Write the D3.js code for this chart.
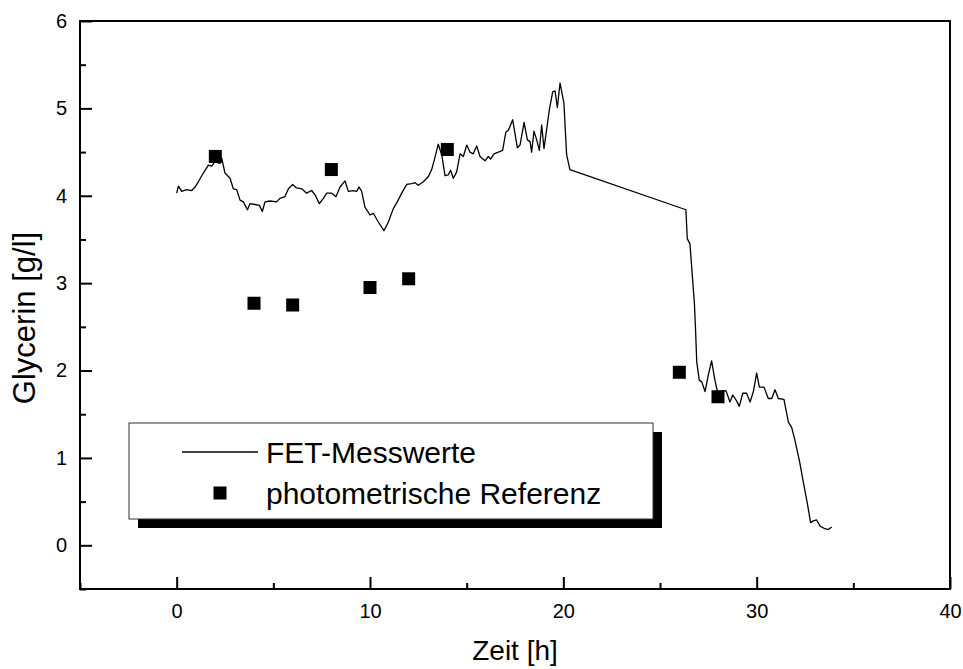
<!DOCTYPE html>
<html>
<head>
<meta charset="utf-8">
<script src="https://cdn.jsdelivr.net/npm/d3@7"></script>
<style>
  body { margin: 0; background: #fff; }
  svg text { font-family: "Liberation Sans", Arial, sans-serif; fill: #000; }
</style>
</head>
<body>
<svg id="chart"></svg>
<script>
// FET sensor readings (time in h, glycerin in g/l)
var fetTime = [0, 0.09, 0.26, 0.52, 0.78, 0.95, 1.12, 1.38, 1.64, 1.81, 1.98, 2.24, 2.33, 2.5, 2.76, 2.93,
    3.1, 3.28, 3.45, 3.66, 3.79, 4.05, 4.28, 4.43, 4.57, 4.83, 5.17, 5.34, 5.6, 5.78, 6.0, 6.2, 6.47,
    6.72, 6.98, 7.16, 7.38, 7.59, 7.76, 8.02, 8.24, 8.45, 8.71, 8.88, 9.14, 9.31, 9.43, 9.57, 9.74,
    10.0, 10.17, 10.43, 10.72, 10.95, 11.2, 11.41, 11.64, 11.9, 12.16, 12.33, 12.5, 12.76, 13.02,
    13.19, 13.36, 13.53, 13.71, 13.88, 14.05, 14.17, 14.31, 14.48, 14.66, 14.83, 15.0, 15.17, 15.34,
    15.52, 15.69, 15.95, 16.12, 16.24, 16.41, 16.64, 16.86, 17.03, 17.16, 17.38, 17.62, 17.76, 17.97,
    18.14, 18.28, 18.36, 18.48, 18.62, 18.76, 18.88, 19.0, 19.28, 19.45, 19.57, 19.69, 19.83, 20.03,
    20.17, 20.34, 26.34, 26.41, 26.55, 26.69, 26.78, 26.84, 26.9, 27.03, 27.16, 27.33, 27.5, 27.67,
    27.84, 27.97, 28.19, 28.41, 28.62, 28.76, 28.97, 29.1, 29.28, 29.48, 29.66, 29.83, 30.0, 30.14,
    30.38, 30.6, 30.78, 30.95, 31.12, 31.41, 31.64, 31.81, 31.98, 32.21, 32.41, 32.62, 32.79, 32.93,
    33.1, 33.28, 33.53, 33.71, 33.88]
var fetValue = [4.03, 4.11, 4.05, 4.07, 4.06, 4.10, 4.16, 4.26, 4.35, 4.34, 4.39, 4.37, 4.43, 4.26, 4.20, 4.08,
    4.07, 3.95, 3.93, 3.84, 3.91, 3.90, 3.89, 3.82, 3.93, 3.94, 3.93, 3.97, 3.99, 4.08, 4.13, 4.09, 4.08,
    4.03, 4.06, 4.01, 3.91, 3.97, 4.03, 4.03, 3.99, 4.10, 4.17, 4.05, 4.06, 4.05, 4.10, 4.05, 3.87,
    3.78, 3.80, 3.70, 3.60, 3.70, 3.85, 3.93, 4.03, 4.13, 4.14, 4.15, 4.12, 4.16, 4.22,
    4.30, 4.44, 4.59, 4.47, 4.23, 4.24, 4.29, 4.20, 4.27, 4.48, 4.45, 4.58, 4.50, 4.48,
    4.57, 4.45, 4.40, 4.45, 4.42, 4.48, 4.50, 4.52, 4.73, 4.75, 4.87, 4.55, 4.58, 4.84,
    4.64, 4.62, 4.50, 4.74, 4.64, 4.52, 4.81, 4.54, 4.99, 5.19, 5.20, 5.01, 5.29, 5.06,
    4.47, 4.30, 3.84, 3.51, 3.45, 3.03, 2.77, 2.46, 2.10, 1.89, 1.87, 1.76, 1.95, 2.11,
    1.89, 1.76, 1.76, 1.77, 1.64, 1.72, 1.65, 1.59, 1.74, 1.74, 1.64, 1.76, 1.97, 1.81,
    1.81, 1.68, 1.68, 1.78, 1.68, 1.67, 1.41, 1.35, 1.20, 0.97, 0.73, 0.48, 0.26, 0.28,
    0.29, 0.22, 0.19, 0.18, 0.21]

// photometric reference samples
var refTime = [2, 4, 6, 8, 10, 12, 14, 26, 28]
var refValue = [4.45, 2.77, 2.75, 4.30, 2.95, 3.05, 4.53, 1.98, 1.70]

// ticks
var xMajor = [0, 10, 20, 30, 40]
var xMinor = [-5, 5, 15, 25, 35]
var yMajor = [0, 1, 2, 3, 4, 5, 6]
var yMinor = [-0.5, 0.5, 1.5, 2.5, 3.5, 4.5, 5.5]

var legendLabels = ["FET-Messwerte", "photometrische Referenz"]

const width = 963, height = 669;
const margin = { top: 21, right: 13, bottom: 80, left: 80 };

const svg = d3.select("#chart")
    .attr("width", width)
    .attr("height", height);

const xScale = d3.scaleLinear()
    .domain([-5, 40])
    .range([margin.left, width - margin.right]);

const yScale = d3.scaleLinear()
    .domain([-0.5, 6])
    .range([height - margin.bottom, margin.top]);

const plotW = xScale(40) - xScale(-5);
const plotH = yScale(-0.5) - yScale(6);

// x axis, ticks pointing inward
svg.append("g")
    .attr("transform", `translate(0,${yScale(-0.5)})`)
    .call(d3.axisBottom(xScale).tickValues(xMajor).tickSize(-12).tickPadding(15).tickFormat(d3.format("d")))
    .call(g => g.select(".domain").remove())
    .call(g => g.selectAll("line").attr("stroke-width", 2))
    .call(g => g.selectAll("text").attr("font-size", 20).attr("font-family", null));

svg.append("g")
    .attr("transform", `translate(0,${yScale(-0.5)})`)
    .call(d3.axisBottom(xScale).tickValues(xMinor).tickSize(-6).tickFormat(""))
    .call(g => g.select(".domain").remove())
    .call(g => g.selectAll("line").attr("stroke-width", 2));

// y axis
svg.append("g")
    .attr("transform", `translate(${xScale(-5)},0)`)
    .call(d3.axisLeft(yScale).tickValues(yMajor).tickSize(-12).tickPadding(13).tickFormat(d3.format("d")))
    .call(g => g.select(".domain").remove())
    .call(g => g.selectAll("line").attr("stroke-width", 2))
    .call(g => g.selectAll("text").attr("font-size", 20).attr("font-family", null));

svg.append("g")
    .attr("transform", `translate(${xScale(-5)},0)`)
    .call(d3.axisLeft(yScale).tickValues(yMinor).tickSize(-6).tickFormat(""))
    .call(g => g.select(".domain").remove())
    .call(g => g.selectAll("line").attr("stroke-width", 2));

// frame
svg.append("rect")
    .attr("x", xScale(-5))
    .attr("y", yScale(6))
    .attr("width", plotW)
    .attr("height", plotH)
    .attr("fill", "none")
    .attr("stroke", "#000")
    .attr("stroke-width", 2);

// FET line
var fetData = fetTime.map((t, i) => [t, fetValue[i]]);
svg.append("path")
    .datum(fetData)
    .attr("fill", "none")
    .attr("stroke", "#000")
    .attr("stroke-width", 1.3)
    .attr("stroke-linejoin", "round")
    .attr("d", d3.line().x(d => xScale(d[0])).y(d => yScale(d[1])));

// reference squares
const sq = 13;
svg.selectAll("rect.ref")
    .data(refTime.map((t, i) => [t, refValue[i]]))
    .enter()
    .append("rect")
    .attr("class", "ref")
    .attr("x", d => xScale(d[0]) - sq / 2)
    .attr("y", d => yScale(d[1]) - sq / 2)
    .attr("width", sq)
    .attr("height", sq)
    .attr("fill", "#000");

// axis titles
svg.append("text")
    .attr("x", (xScale(-5) + xScale(40)) / 2)
    .attr("y", 660)
    .attr("text-anchor", "middle")
    .attr("font-size", 28)
    .text("Zeit [h]");

svg.append("text")
    .attr("transform", "translate(35,318) rotate(-90)")
    .attr("text-anchor", "middle")
    .attr("font-size", 31)
    .text("Glycerin [g/l]");

// legend with drop shadow
const lg = { x: 129, y: 423, w: 524, h: 96, off: 9 };
svg.append("rect")
    .attr("x", lg.x + lg.off)
    .attr("y", lg.y + lg.off)
    .attr("width", lg.w)
    .attr("height", lg.h)
    .attr("fill", "#000");
svg.append("rect")
    .attr("x", lg.x)
    .attr("y", lg.y)
    .attr("width", lg.w)
    .attr("height", lg.h)
    .attr("fill", "#fff")
    .attr("stroke", "#333")
    .attr("stroke-width", 1);

svg.append("line")
    .attr("x1", 182).attr("x2", 258)
    .attr("y1", 452).attr("y2", 452)
    .attr("stroke", "#000")
    .attr("stroke-width", 1.3);
svg.append("rect")
    .attr("x", 220 - sq / 2).attr("y", 493 - sq / 2)
    .attr("width", sq).attr("height", sq)
    .attr("fill", "#000");

svg.selectAll("text.leg")
    .data(legendLabels)
    .enter()
    .append("text")
    .attr("class", "leg")
    .attr("x", 266)
    .attr("y", (d, i) => 452 + i * 41)
    .attr("dy", "0.35em")
    .attr("font-size", 30)
    .text(d => d);
</script>
</body>
</html>
